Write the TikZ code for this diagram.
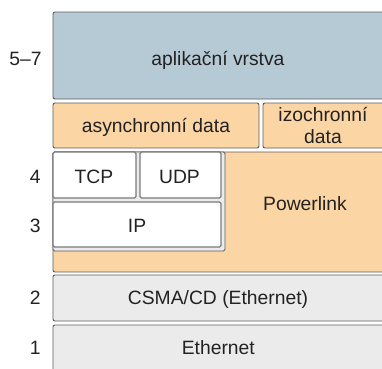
\documentclass[tikz,border=0pt]{standalone}
\usepackage{fontspec}
\setmainfont{Liberation Sans}
\definecolor{appblue}{HTML}{B6CAD5}
\definecolor{orng}{HTML}{FCD5A5}
\definecolor{lgray}{HTML}{EBEBEB}
\definecolor{bord}{HTML}{5C5C5C}
\definecolor{wbord}{HTML}{7A7A7A}
\definecolor{txtc}{HTML}{222222}
\begin{document}
\begin{tikzpicture}[x=1pt,y=-1pt,
  box/.style={draw=bord,line width=0.9pt,rounded corners=2pt},
  wbox/.style={draw=wbord,line width=1.1pt,rounded corners=1.5pt,fill=white},
  txt/.style={anchor=base,inner sep=0pt,text=txtc,font=\fontsize{19.3}{21.7}\selectfont},
  lay/.style={anchor=base east,inner sep=0pt,text=txtc,font=\fontsize{19.3}{21.7}\selectfont}]
\useasboundingbox (0,0) rectangle (382,368);
\clip (0,0) rectangle (382,368);
% boxes
\draw[box,fill=appblue] (53,12) rectangle (386,99);
\draw[box,fill=orng] (53,103) rectangle (259,148);
\draw[box,fill=orng] (263,103) rectangle (386,148);
\draw[box,fill=orng] (53,152) rectangle (386,272);
\draw[draw=bord,line width=0.9pt,fill=lgray,rounded corners=1.5pt] (53,152) rectangle (225,251);
\draw[wbox] (53,152) rectangle (136,198);
\draw[wbox] (140,152) rectangle (221,198);
\draw[wbox] (53,202) rectangle (221,247);
\draw[box,fill=lgray] (53,275) rectangle (386,321);
\draw[box,fill=lgray] (53,325) rectangle (386,380);
% texts
\node[txt] (app) at (218,65.7) {aplikační vrstva};
\node[txt] (async) at (156,132.3) {asynchronní data};
\node[txt] (izo1) at (323,121.7) {izochronní};
\node[txt] (izo2) at (323,143.3) {data};
\node[txt] (tcp) at (94,183.3) {TCP};
\node[txt] (udp) at (179.5,183.3) {UDP};
\node[txt] (ip) at (137,232.7) {IP};
\node[txt] (pl) at (305,210) {Powerlink};
\node[txt] (csma) at (218,304.3) {CSMA/CD (Ethernet)};
\node[txt] (eth) at (218.3,354.3) {Ethernet};
% layer numbers
\node[lay] (l57) at (41.7,65.7) {5–7};
\node[lay] (l4) at (40.7,183.3) {4};
\node[lay] (l3) at (40.7,232.7) {3};
\node[lay] (l2) at (40.7,304.3) {2};
\node[lay] (l1) at (40.7,354.3) {1};
\end{tikzpicture}
\end{document}
